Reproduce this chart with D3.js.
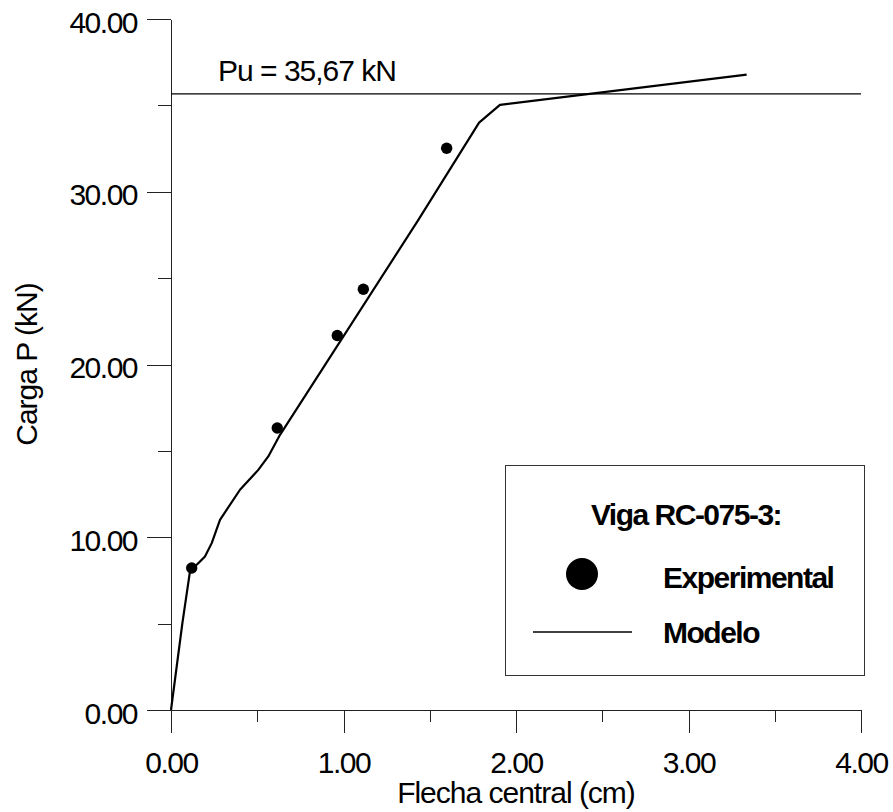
<!DOCTYPE html>
<html>
<head>
<meta charset="utf-8">
<script src="https://cdn.jsdelivr.net/npm/d3@7"></script>
<style>
  body { margin: 0; background: #ffffff; }
  svg text { font-family: "Liberation Sans", Arial, sans-serif; font-size: 30px; letter-spacing: -1.5px; fill: #000; }
  .bold { font-weight: bold; }
  .loose { letter-spacing: -1px; }
</style>
</head>
<body>
<svg id="chart" width="893" height="812"></svg>
<script>
// Beam load-deflection chart (Viga RC-075-3)

// -- Data -- //
const xMajorTicks = [0, 1, 2, 3, 4];
const xMinorTicks = [0.5, 1.5, 2.5, 3.5];
const yMajorTicks = [0, 10, 20, 30, 40];
const yMinorTicks = [5, 15, 25, 35];

// Experimental points: deflection (cm) and load (kN)
const expDeflection = [0.12, 0.616, 0.964, 1.115, 1.598];
const expLoad = [8.22, 16.32, 21.68, 24.36, 32.52];

// Model curve
const modelDeflection = [0, 0.066, 0.11, 0.197, 0.236, 0.284, 0.40, 0.506, 0.564, 0.632, 1.434, 1.786, 1.907, 3.337];
const modelLoad = [0, 5.03, 8.02, 8.89, 9.66, 11.01, 12.75, 13.90, 14.68, 15.93, 28.37, 34.0, 35.03, 36.78];

// Ultimate load
const ultimateLoad = 35.67;
const ultimateLabel = "Pu = 35,67 kN";

const legendTitle = "Viga RC-075-3:";
const legendNames = ["Experimental", "Modelo"];
const xTitle = "Flecha central (cm)";
const yTitle = "Carga P (kN)";


// -- Chart -- //
let svg = d3.select("#chart");
let x = d3.scaleLinear().domain([0, 4]).range([171, 861]);
let y = d3.scaleLinear().domain([0, 40]).range([710, 19]);
let fmt = d3.format(".2f");

// Minor ticks first (no labels)
svg.append("g")
    .attr("transform", `translate(0,${y(0)})`)
    .call(d3.axisBottom(x).tickValues(xMinorTicks).tickSize(12).tickSizeOuter(0).tickFormat(""));
svg.append("g")
    .attr("transform", `translate(${x(0)},0)`)
    .call(d3.axisLeft(y).tickValues(yMinorTicks).tickSize(13).tickSizeOuter(0).tickFormat(""));

// Major axes
let gx = svg.append("g")
    .attr("transform", `translate(0,${y(0)})`)
    .call(d3.axisBottom(x).tickValues(xMajorTicks).tickSize(23).tickSizeOuter(0).tickFormat(fmt));
gx.selectAll("text").attr("y", 63).attr("dy", null);

let gy = svg.append("g")
    .attr("transform", `translate(${x(0)},0)`)
    .call(d3.axisLeft(y).tickValues(yMajorTicks).tickSize(24).tickSizeOuter(0).tickFormat(fmt));
gy.selectAll("text").attr("x", -34).attr("y", 13).attr("dy", null);

// Strip the axis default font so CSS applies
svg.selectAll(".tick text").attr("fill", null);
svg.selectAll("g").attr("font-size", null).attr("font-family", null);
svg.selectAll(".domain, .tick line").attr("stroke", "#222").attr("shape-rendering", "crispEdges");

// Axis titles
svg.append("text")
    .attr("class", "loose")
    .attr("x", (x(0) + x(4)) / 2)
    .attr("y", 803)
    .attr("text-anchor", "middle")
    .text(xTitle);
svg.append("text")
    .attr("class", "loose")
    .attr("transform", `translate(37,${(y(0) + y(40)) / 2}) rotate(-90)`)
    .attr("text-anchor", "middle")
    .text(yTitle);

// Ultimate load line and label
svg.append("line")
    .attr("x1", x(0)).attr("x2", x(4))
    .attr("y1", y(ultimateLoad)).attr("y2", y(ultimateLoad))
    .attr("stroke", "#000")
    .attr("stroke-width", 1.2);
svg.append("text")
    .attr("class", "loose")
    .attr("x", 218)
    .attr("y", 81)
    .text(ultimateLabel);

// Model line
let modelData = modelDeflection.map((d, i) => [d, modelLoad[i]]);
let line = d3.line().x(d => x(d[0])).y(d => y(d[1]));
svg.append("path")
    .datum(modelData)
    .attr("d", line)
    .attr("fill", "none")
    .attr("stroke", "#000")
    .attr("stroke-width", 2.2)
    .attr("stroke-linejoin", "round");

// Experimental points
svg.append("g")
  .selectAll("circle")
  .data(expDeflection.map((d, i) => [d, expLoad[i]]))
  .join("circle")
    .attr("cx", d => x(d[0]))
    .attr("cy", d => y(d[1]))
    .attr("r", 5.7)
    .attr("fill", "#000");

// Legend
let legend = svg.append("g");
legend.append("rect")
    .attr("x", 505).attr("y", 465)
    .attr("width", 359).attr("height", 210)
    .attr("fill", "#fff")
    .attr("stroke", "#333")
    .attr("stroke-width", 1)
    .attr("shape-rendering", "crispEdges");
legend.append("text")
    .attr("class", "bold")
    .attr("x", 686).attr("y", 525)
    .attr("text-anchor", "middle")
    .text(legendTitle);
legend.append("circle")
    .attr("cx", 582).attr("cy", 574)
    .attr("r", 16)
    .attr("fill", "#000");
legend.append("line")
    .attr("x1", 533).attr("x2", 632)
    .attr("y1", 632).attr("y2", 632)
    .attr("stroke", "#000")
    .attr("stroke-width", 1.5);
legend.selectAll("text.name")
  .data(legendNames)
  .join("text")
    .attr("class", "name bold")
    .attr("x", 663)
    .attr("y", (d, i) => 588 + i * 55)
    .text(d => d);
</script>
</body>
</html>
